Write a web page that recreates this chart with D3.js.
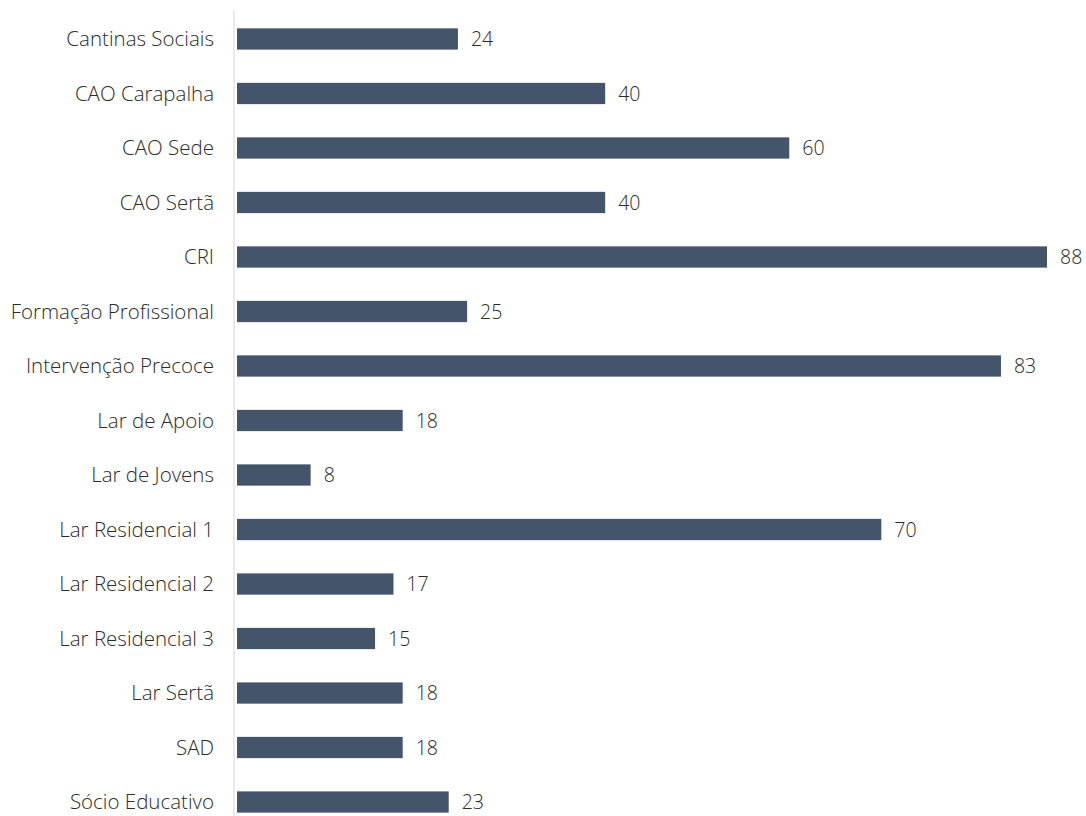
<!DOCTYPE html>
<html>
<head>
<meta charset="utf-8">
<script src="https://cdn.jsdelivr.net/npm/d3@7"></script>
<style>
  body { margin: 0; background: #fff; }
  svg { display: block; }
</style>
</head>
<body>
<div id="chart"></div>
<script>
const categories = [
  "Cantinas Sociais", "CAO Carapalha", "CAO Sede", "CAO Sertã", "CRI",
  "Formação Profissional", "Intervenção Precoce", "Lar de Apoio", "Lar de Jovens",
  "Lar Residencial 1", "Lar Residencial 2", "Lar Residencial 3", "Lar Sertã",
  "SAD", "Sócio Educativo"
]
const values = [24, 40, 60, 40, 88, 25, 83, 18, 8, 70, 17, 15, 18, 18, 23]

const width = 1086, height = 816
const margin = { top: 12, right: 39, bottom: -13, left: 237 }

const data = categories.map((c, i) => ({ name: c, value: values[i] }))

const x = d3.scaleLinear()
    .domain([0, 88])
    .range([margin.left, width - margin.right])

const y = d3.scaleBand()
    .domain(categories)
    .range([margin.top, height - margin.bottom])
    .paddingInner(0.61)
    .paddingOuter(0.3)

const svg = d3.select("#chart")
    .append("svg")
    .attr("width", width)
    .attr("height", height)

// vertical axis line
svg.append("line")
    .attr("x1", margin.left - 3)
    .attr("x2", margin.left - 3)
    .attr("y1", 10)
    .attr("y2", height)
    .attr("stroke", "#e3e3e3")
    .attr("stroke-width", 1.5)

svg.append("g")
    .attr("fill", "#44546a")
    .selectAll("rect")
    .data(data)
    .join("rect")
    .attr("x", x(0))
    .attr("y", d => y(d.name))
    .attr("width", d => x(d.value) - x(0))
    .attr("height", y.bandwidth())

// category labels
svg.append("g")
    .attr("font-family", "Open Sans, sans-serif")
    .attr("font-size", 20.5)
    .attr("font-weight", 300)
    .attr("fill", "#2b2b2b")
    .attr("text-anchor", "end")
    .selectAll("text")
    .data(data)
    .join("text")
    .attr("x", margin.left - 23)
    .attr("y", d => y(d.name) + y.bandwidth() / 2)
    .attr("dy", "0.35em")
    .text(d => d.name)

// value labels
svg.append("g")
    .attr("font-family", "Open Sans, sans-serif")
    .attr("font-size", 19.5)
    .attr("font-weight", 300)
    .attr("fill", "#2b2b2b")
    .selectAll("text")
    .data(data)
    .join("text")
    .attr("x", d => x(d.value) + 13)
    .attr("y", d => y(d.name) + y.bandwidth() / 2)
    .attr("dy", "0.38em")
    .text(d => d.value)
</script>
</body>
</html>
